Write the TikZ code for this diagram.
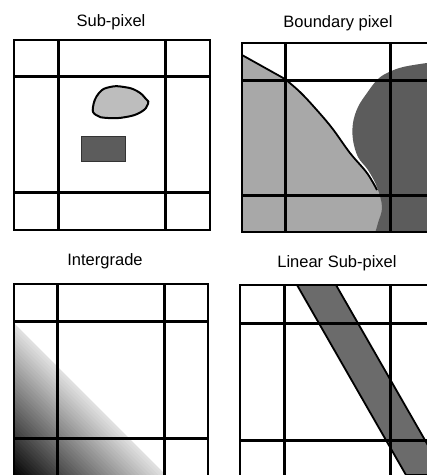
\documentclass[tikz,border=0pt]{standalone}
\usepackage{fontspec}
\setmainfont{Liberation Sans}
\definecolor{blobg}{gray}{0.74}
\definecolor{rectg}{gray}{0.36}
\definecolor{lightg}{gray}{0.66}
\definecolor{darkg}{gray}{0.36}
\definecolor{bandg}{gray}{0.42}
\begin{document}
\begin{tikzpicture}[x=1pt,y=-1pt,
  grid/.style={line width=3pt},
  frame/.style={line width=2.4pt},
  ttl/.style={anchor=base,font=\fontsize{16.5}{19}\selectfont,inner sep=0pt}]
\useasboundingbox (0,0) rectangle (427,475);
\clip (0,0) rectangle (427,475);
% titles
\node[ttl] (t1) at (111,26) {Sub-pixel};
\node[ttl] (t2) at (338,27) {Boundary pixel};
\node[ttl] (t3) at (105,265) {Intergrade};
\node[ttl] (t4) at (337,267) {Linear Sub-pixel};
% ---------- panel 1: sub-pixel
\filldraw[fill=blobg, line width=2pt] plot[smooth cycle, tension=0.8] coordinates
  {(93,107)(99,93)(110,87)(124,87)(137,91)(146,99)(148,104)(141,112)(126,117)(108,118)(96,115)};
\filldraw[fill=rectg, draw=black!80, line width=0.8pt] (81,136) rectangle (125,161);
\draw[frame] (14,40) rectangle (210,230);
\draw[grid] (58,40)--(58,230) (165,40)--(165,230) (14,76)--(210,76) (14,192)--(210,192);
% ---------- panel 2: boundary pixel
\begin{scope}
\clip (242,43) rectangle (440,232);
\fill[lightg] (242,55) -- (285,79) -- plot[smooth, tension=0.6] coordinates
  {(285,79)(300,92)(315,108)(332,128)(350,153)(367,173)(380,192)(386,212)(386,240)} -- (242,240) -- cycle;
\draw[line width=1.8pt] (242,55) -- (285,79) -- plot[smooth, tension=0.6] coordinates
  {(285,79)(300,92)(315,108)(332,128)(350,153)(367,173)(377,190)};
\fill[darkg] (440,62) -- plot[smooth, tension=0.6] coordinates
  {(427,63)(403,67)(387,73)(377,80)(367,93)(358,107)(353,123)(353,140)(358,157)(368,170)(377,187)(382,207)(378,223)(373,240)} -- (440,240) -- cycle;
\end{scope}
\draw[frame] (242,43) rectangle (440,232);
\draw[grid] (285,43)--(285,232) (390,43)--(390,232) (242,80)--(440,80) (242,195)--(440,195);
% ---------- panel 3: intergrade
\foreach \i in {0,...,40}{
  \pgfmathsetmacro\L{152*(1-\i/40)}
  \pgfmathsetmacro\d{12+88*\i/40}
  \fill[black!\d] (14,{475-\L}) -- ({14+\L},475) -- (14,475) -- cycle;
}
\draw[frame] (14,284) rectangle (208,490);
\draw[grid] (57,284)--(57,490) (164,284)--(164,490) (14,321)--(208,321) (14,438)--(208,438);
% ---------- panel 4: linear sub-pixel
\filldraw[fill=bandg, line width=1.8pt] (297,285) -- (336,285) -- (445,475) -- (406,475) -- cycle;
\draw[frame] (240,285) rectangle (440,490);
\draw[grid] (284,285)--(284,490) (390,285)--(390,490) (240,323)--(440,323) (240,440)--(440,440);
\end{tikzpicture}
\end{document}
